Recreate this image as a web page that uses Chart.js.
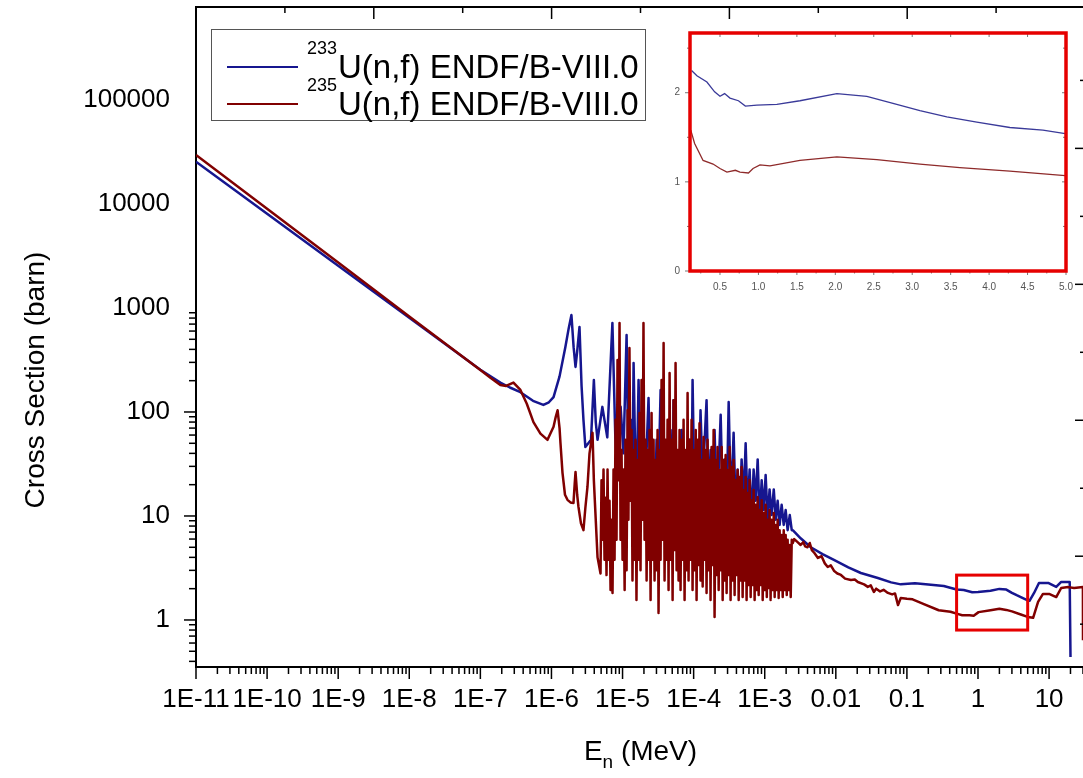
<!DOCTYPE html>
<html>
<head>
<meta charset="utf-8">
<script src="https://cdn.jsdelivr.net/npm/chart.js@4.4.0/dist/chart.umd.min.js"></script>
<style>
  html, body { margin: 0; padding: 0; background: #fff; overflow: hidden; }
  #wrap { position: relative; width: 1090px; height: 778px; }
  .box { position: absolute; }
</style>
</head>
<body>
<div id="wrap">
  <div class="box" style="left:0;top:0;width:1090px;height:778px"><canvas id="main"></canvas></div>
  <div class="box" style="left:640px;top:15px;width:440px;height:290px"><canvas id="inset"></canvas></div>
</div>
<script>
// axis ticks
const xTicks = [1e-11, 1e-10, 1e-9, 1e-8, 1e-7, 1e-6, 1e-5, 1e-4, 1e-3, 0.01, 0.1, 1, 10]
const yTicks = [1, 10, 100, 1000, 10000, 100000]
const insetXTicks = [0.5, 1.0, 1.5, 2.0, 2.5, 3.0, 3.5, 4.0, 4.5, 5.0]
const insetYTicks = [0, 1, 2]

// legend
const masses = ['233', '235']
const reaction = 'U(n,f) ENDF/B-VIII.0'

// zoomed window shown in the inset: [Emin, Emax, sigmaMin, sigmaMax]
const zoomRange = [0.5, 5, 0.8, 2.7]

// [E (MeV), sigma (barn)]
const u233 = [
  [1e-11, 25500], [1e-10, 8060], [1e-9, 2550], [1e-8, 806], [1e-7, 255], [1.91e-7, 192],
  [2.6e-7, 172], [3.66e-7, 155], [5.5e-7, 128], [7.7e-7, 117], [9.2e-7, 124], [1.07e-6, 139],
  [1.3e-6, 220], [1.57e-6, 422], [1.75e-6, 640], [1.91e-6, 857], [2.05e-6, 420], [2.18e-6, 271],
  [2.3e-6, 380], [2.48e-6, 657], [2.65e-6, 180], [2.82e-6, 84], [3.0e-6, 46], [3.3e-6, 50],
  [3.6e-6, 54], [3.95e-6, 203], [4.2e-6, 80], [4.45e-6, 54], [5.2e-6, 112], [6.1e-6, 57],
  [7.2e-6, 718], [7.9e-6, 60], [8.5e-6, 24], [9.4e-6, 112], [1.03e-5, 40],
  [1.14e-5, 550], [1.21e-5, 28], [1.30e-5, 84], [1.38e-5, 22], [1.43e-5, 296], [1.52e-5, 28],
  [1.57e-5, 14], [1.68e-5, 203], [1.79e-5, 28], [1.91e-5, 54], [2.04e-5, 9.2], [2.18e-5, 43],
  [2.32e-5, 136], [2.48e-5, 18], [2.64e-5, 35], [2.82e-5, 7.3], [3.01e-5, 54], [3.21e-5, 22],
  [3.43e-5, 163], [3.66e-5, 14], [3.90e-5, 43], [4.16e-5, 9.2], [4.44e-5, 28], [4.74e-5, 67],
  [5.06e-5, 14], [5.22e-5, 130], [5.57e-5, 9.2], [5.95e-5, 35], [6.34e-5, 11.4], [6.77e-5, 67],
  [7.22e-5, 14], [7.70e-5, 28], [8.22e-5, 7.3], [8.77e-5, 54], [9.36e-5, 18], [9.66e-5, 203],
  [1.03e-4, 14], [1.10e-4, 35], [1.17e-4, 9.2], [1.25e-4, 104], [1.34e-4, 22], [1.43e-4, 54],
  [1.52e-4, 130], [1.62e-4, 14], [1.73e-4, 43], [1.85e-4, 9.2], [1.97e-4, 67], [2.10e-4, 14],
  [2.25e-4, 28], [2.40e-4, 94], [2.56e-4, 14], [2.73e-4, 35], [2.91e-4, 11.4], [3.11e-4, 125],
  [3.31e-4, 18], [3.54e-4, 35], [3.65e-4, 63], [3.90e-4, 11.4], [4.16e-4, 28], [4.44e-4, 9.2],
  [4.73e-4, 35], [5.05e-4, 14], [5.39e-4, 50], [5.75e-4, 11.4], [6.13e-4, 28], [6.54e-4, 9.2],
  [6.98e-4, 28], [7.46e-4, 14], [7.96e-4, 35], [8.49e-4, 9.2], [9.06e-4, 22], [9.67e-4, 11.4],
  [1.03e-3, 24.8], [1.10e-3, 9.2], [1.17e-3, 18], [1.25e-3, 10.2], [1.34e-3, 18], [1.43e-3, 9.2],
  [1.52e-3, 14], [1.62e-3, 8.2], [1.73e-3, 12.8], [1.85e-3, 8.2], [1.97e-3, 11.4], [2.10e-3, 7.3],
  [2.25e-3, 10.2], [2.40e-3, 7.3],
  [2.48e-3, 7.3], [3.2e-3, 6.1], [4.45e-3, 5.0], [6.5e-3, 4.3], [9.4e-3, 3.78], [0.015, 3.2],
  [0.0225, 2.83], [0.039, 2.53], [0.06, 2.3], [0.082, 2.2], [0.13, 2.25], [0.2, 2.19],
  [0.33, 2.12], [0.5, 1.96], [0.63, 1.94], [0.83, 1.85], [1.0, 1.86], [1.5, 1.91], [2.0, 1.99],
  [2.5, 1.96], [3.0, 1.82], [3.5, 1.73], [4.0, 1.66], [5.0, 1.54], [5.3, 1.53], [6.15, 1.82],
  [7.2, 2.27], [9.7, 2.27], [12.6, 2.08], [14.8, 2.32], [19.5, 2.32], [20, 0.44]
]

const u235 = [
  [1e-11, 29600], [1e-10, 9000], [1e-9, 2740], [1e-8, 830], [1e-7, 253], [1.4e-7, 212],
  [1.91e-7, 182], [2.3e-7, 178], [2.92e-7, 192], [3.66e-7, 163], [4.5e-7, 120], [5.58e-7, 80],
  [7e-7, 62], [8.8e-7, 54], [1.07e-6, 72], [1.15e-6, 90], [1.22e-6, 104], [1.3e-6, 70],
  [1.34e-6, 50], [1.43e-6, 26], [1.55e-6, 16], [1.68e-6, 14.3], [1.85e-6, 13.5], [2.04e-6, 13.3],
  [2.12e-6, 20], [2.18e-6, 26.5], [2.3e-6, 16], [2.4e-6, 12.2], [2.6e-6, 8.5], [2.82e-6, 7.3],
  [3.0e-6, 12], [3.21e-6, 19], [3.43e-6, 40], [3.78e-6, 63], [3.95e-6, 22], [4.45e-6, 4.0],
  [4.90e-6, 2.8], [5.06e-6, 22], [5.22e-6, 5.9], [5.40e-6, 28], [5.58e-6, 3.8], [5.76e-6, 15],
  [5.95e-6, 2.7], [6.15e-6, 28], [6.35e-6, 3.8], [6.56e-6, 14], [6.78e-6, 1.94], [7.00e-6, 9.2],
  [7.23e-6, 1.82], [7.47e-6, 28], [7.72e-6, 3.8], [7.97e-6, 84], [8.23e-6, 5.9], [8.50e-6, 316],
  [8.78e-6, 22], [9.07e-6, 718], [9.37e-6, 5.9], [9.68e-6, 43], [1.00e-5, 3.8], [1.03e-5, 28],
  [1.07e-5, 1.94], [1.10e-5, 54], [1.14e-5, 3.0], [1.18e-5, 104], [1.21e-5, 9.2], [1.25e-5, 412],
  [1.30e-5, 14], [1.34e-5, 67], [1.38e-5, 2.4], [1.43e-5, 43], [1.47e-5, 3.8], [1.52e-5, 54],
  [1.57e-5, 1.56], [1.62e-5, 34.5], [1.68e-5, 3.8], [1.73e-5, 98], [1.79e-5, 3.0], [1.85e-5, 203],
  [1.91e-5, 9.2], [1.97e-5, 718], [2.04e-5, 5.9], [2.11e-5, 54], [2.18e-5, 2.4], [2.25e-5, 43],
  [2.32e-5, 3.8], [2.40e-5, 67], [2.48e-5, 1.56], [2.56e-5, 98], [2.64e-5, 3.8], [2.73e-5, 54],
  [2.82e-5, 2.4], [2.91e-5, 34.5], [3.01e-5, 3.0], [3.11e-5, 67], [3.21e-5, 1.17], [3.32e-5, 43],
  [3.43e-5, 3.8], [3.54e-5, 203], [3.66e-5, 5.9], [3.78e-5, 461], [3.90e-5, 2.4], [4.03e-5, 54],
  [4.16e-5, 3.8], [4.30e-5, 84], [4.44e-5, 1.94], [4.59e-5, 237], [4.74e-5, 3.8], [4.90e-5, 54],
  [5.06e-5, 1.56], [5.22e-5, 130], [5.40e-5, 4.7], [5.57e-5, 296], [5.76e-5, 3.0], [5.95e-5, 43],
  [6.14e-5, 2.4], [6.34e-5, 67], [6.55e-5, 1.94], [6.77e-5, 54], [6.99e-5, 3.8], [7.22e-5, 84],
  [7.46e-5, 1.56], [7.70e-5, 43], [7.96e-5, 3.0], [8.22e-5, 152], [8.49e-5, 2.4], [8.77e-5, 54],
  [9.06e-5, 3.8], [9.36e-5, 84], [9.66e-5, 1.94], [9.98e-5, 43], [1.03e-4, 3.0], [1.07e-4, 67],
  [1.10e-4, 1.56], [1.14e-4, 54], [1.17e-4, 3.38], [1.21e-4, 78], [1.25e-4, 2.4], [1.29e-4, 34.5],
  [1.34e-4, 2.1], [1.38e-4, 57.5], [1.43e-4, 3.8], [1.47e-4, 43], [1.52e-4, 1.82], [1.57e-4, 54],
  [1.62e-4, 3.0], [1.68e-4, 34.5], [1.73e-4, 1.56], [1.79e-4, 46], [1.85e-4, 3.38], [1.91e-4, 67],
  [1.97e-4, 1.07], [2.04e-4, 34.5], [2.10e-4, 2.7], [2.17e-4, 46], [2.25e-4, 1.94], [2.32e-4, 27.7],
  [2.40e-4, 3.0], [2.48e-4, 46], [2.56e-4, 1.56], [2.64e-4, 34.5], [2.73e-4, 2.4], [2.82e-4, 38.6],
  [2.91e-4, 1.82], [3.01e-4, 27.7], [3.11e-4, 2.7], [3.21e-4, 46], [3.31e-4, 1.56], [3.42e-4, 29.6],
  [3.54e-4, 2.4], [3.65e-4, 34.5], [3.77e-4, 1.74], [3.90e-4, 22.2], [4.03e-4, 2.7], [4.16e-4, 27.7],
  [4.30e-4, 1.56], [4.44e-4, 23.7], [4.58e-4, 2.4], [4.73e-4, 29.6], [4.89e-4, 1.66], [5.05e-4, 17.8],
  [5.21e-4, 2.4], [5.39e-4, 23.7], [5.56e-4, 1.56], [5.75e-4, 16.6], [5.94e-4, 2.17], [6.13e-4, 22.2],
  [6.34e-4, 1.66], [6.54e-4, 14.2], [6.76e-4, 2.17], [6.98e-4, 17.8], [7.21e-4, 1.56], [7.46e-4, 12.8],
  [7.70e-4, 1.94], [7.96e-4, 15.2], [8.22e-4, 1.74], [8.49e-4, 11.4], [8.77e-4, 2.17], [9.06e-4, 14.2],
  [9.36e-4, 1.56], [9.67e-4, 10.7], [9.99e-4, 1.94], [1.03e-3, 12.8], [1.07e-3, 1.66], [1.10e-3, 9.2],
  [1.14e-3, 2.03], [1.17e-3, 11.4], [1.21e-3, 1.56], [1.25e-3, 9.2], [1.29e-3, 1.94], [1.34e-3, 10.7],
  [1.38e-3, 1.66], [1.43e-3, 8.2], [1.47e-3, 1.94], [1.52e-3, 9.2], [1.57e-3, 1.63], [1.62e-3, 7.3],
  [1.68e-3, 1.94], [1.73e-3, 6.56], [1.79e-3, 1.66], [1.85e-3, 7.3], [1.91e-3, 1.94], [1.97e-3, 6.56],
  [2.04e-3, 1.74], [2.10e-3, 5.9], [2.17e-3, 1.94], [2.25e-3, 5.26], [2.32e-3, 1.66], [2.40e-3, 5.9],
  [2.48e-3, 5.5], [2.6e-3, 6.0], [2.9e-3, 5.6], [3.2e-3, 5.26], [3.5e-3, 5.6], [3.7e-3, 5.1],
  [4.0e-3, 5.0], [4.3e-3, 5.5], [4.6e-3, 4.7], [5.0e-3, 4.4], [5.6e-3, 3.95], [6.3e-3, 4.1],
  [7.0e-3, 3.5], [7.7e-3, 3.23], [8.5e-3, 3.35], [9.5e-3, 2.95], [0.0105, 2.8], [0.0118, 2.71],
  [0.0135, 2.5], [0.0163, 2.42], [0.0185, 2.45], [0.0204, 2.32], [0.025, 2.2], [0.0282, 2.08],
  [0.031, 2.15], [0.0343, 1.86], [0.037, 2.0], [0.042, 1.88], [0.047, 1.95], [0.054, 1.82],
  [0.062, 1.76], [0.068, 1.8], [0.075, 1.39], [0.082, 1.63], [0.1, 1.6], [0.12, 1.58],
  [0.17, 1.43], [0.28, 1.24], [0.41, 1.2], [0.5, 1.15], [0.6, 1.11], [0.76, 1.11], [0.87, 1.10],
  [1.02, 1.19], [1.5, 1.24], [2.0, 1.28], [2.5, 1.25], [3.0, 1.21], [4.0, 1.13], [5.0, 1.07],
  [5.96, 1.05], [7.0, 1.49], [8.2, 1.78], [10, 1.78], [12.6, 1.66], [14.8, 2.03], [18.5, 2.07],
  [22.5, 2.03], [29.9, 2.07], [30, 0.64]
]

// inset, linear scale 0.1 - 5 MeV
const insetU233 = [
  [0.13, 2.25], [0.20, 2.19], [0.33, 2.12], [0.43, 2.01], [0.5, 1.96], [0.56, 1.99], [0.63, 1.94],
  [0.74, 1.91], [0.83, 1.85], [0.98, 1.86], [1.24, 1.87], [1.54, 1.91], [2.02, 1.99], [2.41, 1.96],
  [2.75, 1.88], [3.1, 1.80], [3.45, 1.73], [3.84, 1.67], [4.27, 1.61], [4.7, 1.58], [4.99, 1.54]
]
const insetU235 = [
  [0.12, 1.58], [0.17, 1.43], [0.28, 1.24], [0.41, 1.20], [0.5, 1.15], [0.59, 1.11], [0.70, 1.13],
  [0.76, 1.11], [0.87, 1.10], [0.93, 1.15], [1.02, 1.19], [1.15, 1.18], [1.54, 1.24], [2.02, 1.28],
  [2.54, 1.25], [3.1, 1.20], [3.62, 1.16], [4.27, 1.12], [4.99, 1.07]
]

const BLUE = '#16168f'
const RED = '#800000'
const BOXRED = '#e60000'
const FONT = '"Liberation Sans", Arial, sans-serif'

const toXY = (pts) => pts.map(p => ({ x: p[0], y: p[1] }))

function seg(ctx, x1, y1, x2, y2) {
  ctx.beginPath()
  ctx.moveTo(x1, y1)
  ctx.lineTo(x2, y2)
  ctx.stroke()
}

function xLabel(v) {
  if (v >= 0.01) return String(v)
  return '1E' + Math.round(Math.log10(v))
}

// keep the plot area where we put it, no room added for edge labels
function noPad(s) {
  s.paddingTop = 0
  s.paddingBottom = 0
  s.paddingLeft = 0
  s.paddingRight = 0
}

const mainDecor = {
  id: 'mainDecor',
  afterDraw(chart) {
    const { ctx, chartArea: a } = chart
    const { x, y, x2, y2 } = chart.scales
    ctx.save()
    ctx.strokeStyle = '#000'
    ctx.lineWidth = 1.5
    // log ticks, outward
    for (let e = -12; e <= 2; e++) {
      for (let k = 1; k < 10; k++) {
        const v = k * Math.pow(10, e)
        const len = k === 1 ? 12 : 7
        if (v >= x.min * 0.999 && v <= x.max) {
          const px = x.getPixelForValue(v)
          seg(ctx, px, a.bottom, px, a.bottom + len)
        }
        if (v >= y.min && v <= y.max) {
          const py = y.getPixelForValue(v)
          seg(ctx, a.left, py, a.left - len, py)
        }
      }
    }
    // top and right ticks, inward
    x2.ticks.forEach(t => {
      const px = x2.getPixelForValue(t.value)
      seg(ctx, px, a.top, px, a.top + (t.value % 2 ? 6 : 12))
    })
    y2.ticks.forEach(t => {
      const py = y2.getPixelForValue(t.value)
      seg(ctx, a.right, py, a.right - (t.value % 2 ? 5 : 10), py)
    })

    // zoom window
    const bx1 = x.getPixelForValue(zoomRange[0])
    const bx2 = x.getPixelForValue(zoomRange[1])
    const by1 = y.getPixelForValue(zoomRange[3])
    const by2 = y.getPixelForValue(zoomRange[2])
    ctx.strokeStyle = BOXRED
    ctx.lineWidth = 3
    ctx.strokeRect(bx1, by1, bx2 - bx1, by2 - by1)

    // legend
    ctx.fillStyle = '#fff'
    ctx.fillRect(211, 29, 434, 91)
    ctx.strokeStyle = '#555'
    ctx.lineWidth = 1
    ctx.strokeRect(211.5, 29.5, 434, 91)
    const colors = [BLUE, RED]
    masses.forEach((m, i) => {
      const ly = 67 + i * 37
      ctx.strokeStyle = colors[i]
      ctx.lineWidth = 2
      seg(ctx, 227, ly, 298, ly)
      ctx.fillStyle = '#000'
      ctx.textAlign = 'left'
      ctx.textBaseline = 'alphabetic'
      ctx.font = '18px ' + FONT
      ctx.fillText(m, 307, ly - 13)
      ctx.font = '33px ' + FONT
      ctx.fillText(reaction, 338, ly + 11)
    })

    // axis titles
    ctx.fillStyle = '#000'
    ctx.font = '28px ' + FONT
    const w1 = ctx.measureText('E').width
    const w3 = ctx.measureText(' (MeV)').width
    ctx.font = '19px ' + FONT
    const w2 = ctx.measureText('n').width
    const tx = (a.left + a.right) / 2 - (w1 + w2 + w3) / 2
    ctx.textAlign = 'left'
    ctx.font = '28px ' + FONT
    ctx.fillText('E', tx, 760)
    ctx.font = '19px ' + FONT
    ctx.fillText('n', tx + w1, 768)
    ctx.font = '28px ' + FONT
    ctx.fillText(' (MeV)', tx + w1 + w2, 760)

    ctx.translate(36, 380)
    ctx.rotate(-Math.PI / 2)
    ctx.textAlign = 'center'
    ctx.textBaseline = 'middle'
    ctx.fillText('Cross Section (barn)', 0, 0)
    ctx.restore()
  }
}

new Chart(document.getElementById('main'), {
  type: 'scatter',
  data: {
    datasets: [
      { label: '233U', data: toXY(u233), borderColor: BLUE, order: 2 },
      { label: '235U', data: toXY(u235), borderColor: RED, order: 1 }
    ]
  },
  options: {
    responsive: true,
    maintainAspectRatio: false,
    animation: false,
    showLine: true,
    elements: {
      point: { radius: 0, hoverRadius: 0 },
      line: { borderWidth: 2.5, tension: 0, borderJoinStyle: 'round' }
    },
    layout: { padding: { top: 7, right: 5, left: 0, bottom: 0 } },
    plugins: { legend: { display: false }, tooltip: { enabled: false } },
    scales: {
      x: {
        type: 'logarithmic', position: 'bottom', min: 1e-11, max: 32,
        grid: { display: false, drawTicks: false },
        border: { display: true, color: '#000', width: 2 },
        ticks: {
          autoSkip: false, maxRotation: 0, padding: 17, color: '#000',
          font: { family: FONT, size: 26 },
          callback: (v) => xLabel(v)
        },
        afterBuildTicks: (s) => { s.ticks = xTicks.map(v => ({ value: v })) },
        afterFit: (s) => { s.height = 111; noPad(s) }
      },
      y: {
        type: 'logarithmic', position: 'left', min: 0.353, max: 7.84e5,
        grid: { display: false, drawTicks: false },
        border: { display: true, color: '#000', width: 2 },
        ticks: {
          autoSkip: false, padding: 26, color: '#000',
          font: { family: FONT, size: 26 },
          callback: (v) => String(v)
        },
        afterBuildTicks: (s) => { s.ticks = yTicks.map(v => ({ value: v })) },
        afterFit: (s) => { s.width = 196; noPad(s) }
      },
      x2: {
        type: 'linear', position: 'top', min: 0, max: 10,
        grid: { display: false, drawTicks: false },
        border: { display: true, color: '#000', width: 2 },
        ticks: { display: false, stepSize: 1 },
        afterFit: (s) => { s.height = 0; noPad(s) }
      },
      y2: {
        type: 'linear', position: 'right', min: 0.37, max: 10.08,
        grid: { display: false, drawTicks: false },
        border: { display: true, color: '#000', width: 2 },
        ticks: { display: false, stepSize: 1 },
        afterFit: (s) => { s.width = 0; noPad(s) }
      }
    }
  },
  plugins: [mainDecor]
})

const insetDecor = {
  id: 'insetDecor',
  afterDraw(chart) {
    const { ctx, chartArea: a } = chart
    const { x, y } = chart.scales
    ctx.save()
    ctx.strokeStyle = '#777'
    ctx.lineWidth = 1
    insetXTicks.forEach((v) => {
      const px = x.getPixelForValue(v)
      seg(ctx, px, a.bottom, px, a.bottom + 4)
      seg(ctx, px, a.top, px, a.top + 4)
      const mid = x.getPixelForValue(v - 0.25)
      seg(ctx, mid, a.bottom, mid, a.bottom + 2.5)
    })
    insetYTicks.forEach(v => {
      const py = y.getPixelForValue(v)
      seg(ctx, a.left, py, a.left - 5, py)
      const mid = y.getPixelForValue(v + 0.5)
      seg(ctx, a.left, mid, a.left - 3, mid)
      seg(ctx, a.right, py, a.right - 4, py)
      seg(ctx, a.right, mid, a.right - 3, mid)
    })
    ctx.strokeStyle = BOXRED
    ctx.lineWidth = 3.5
    ctx.strokeRect(a.left, a.top, a.right - a.left, a.bottom - a.top)
    ctx.restore()
  }
}

new Chart(document.getElementById('inset'), {
  type: 'scatter',
  data: {
    datasets: [
      { data: toXY(insetU233), borderColor: '#3a3a99' },
      { data: toXY(insetU235), borderColor: '#8e2a2a' }
    ]
  },
  options: {
    responsive: true,
    maintainAspectRatio: false,
    animation: false,
    showLine: true,
    elements: {
      point: { radius: 0, hoverRadius: 0 },
      line: { borderWidth: 1.3, tension: 0 }
    },
    layout: { padding: { top: 18, right: 14, left: 0, bottom: 0 } },
    plugins: { legend: { display: false }, tooltip: { enabled: false } },
    scales: {
      x: {
        type: 'linear', min: 0.11, max: 5.0,
        grid: { display: false, drawTicks: false },
        border: { display: false },
        ticks: {
          padding: 10, color: '#555', font: { family: FONT, size: 10 },
          callback: (v) => v.toFixed(1)
        },
        afterBuildTicks: (s) => { s.ticks = insetXTicks.map(v => ({ value: v })) },
        afterFit: (s) => { s.height = 34; noPad(s) }
      },
      y: {
        type: 'linear', min: 0, max: 2.67,
        grid: { display: false, drawTicks: false },
        border: { display: false },
        ticks: { padding: 10, color: '#555', font: { family: FONT, size: 10 } },
        afterBuildTicks: (s) => { s.ticks = insetYTicks.map(v => ({ value: v })) },
        afterFit: (s) => { s.width = 50; noPad(s) }
      }
    }
  },
  plugins: [insetDecor]
})
</script>
</body>
</html>
